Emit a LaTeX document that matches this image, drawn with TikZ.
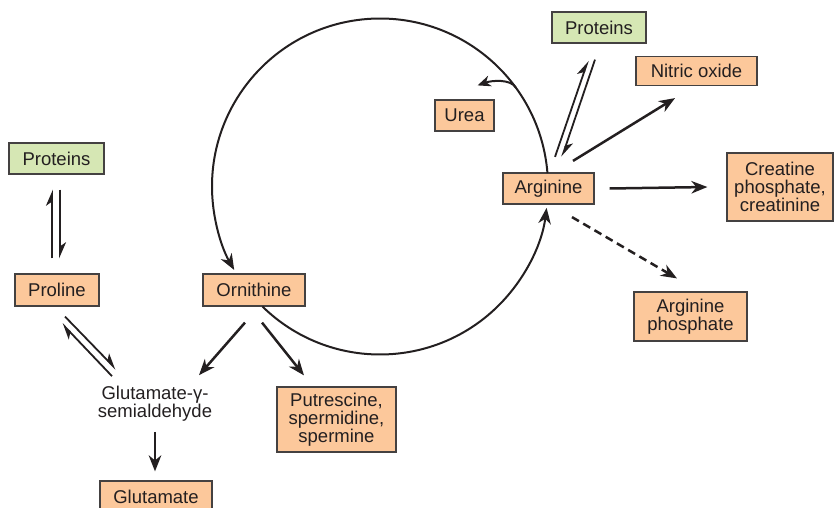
\documentclass[tikz,border=0pt]{standalone}
\usepackage{fontspec}
\setmainfont{Liberation Sans}
\usetikzlibrary{arrows.meta,calc}
\definecolor{boxor}{HTML}{FCC89B}
\definecolor{boxgr}{HTML}{D6E7B4}
\definecolor{ink}{HTML}{231F20}
\begin{document}
\begin{tikzpicture}[x=1pt,y=1pt,
 font=\fontsize{18.5}{18}\selectfont, text=ink,
 obox/.style={draw=ink!85, line width=1.2pt, fill=boxor, inner sep=0pt, align=center},
 gbox/.style={obox, fill=boxgr},
 tip/.style={-{Stealth[length=16pt,width=12.5pt,inset=5pt]}},
 arr/.style={ink, line width=2.5pt, tip},
 eqh/.style={ink, line width=1.8pt, -{Stealth[harpoon,length=14pt,width=12pt,inset=4pt]}},
 cyc/.style={ink, line width=2pt}
]
\useasboundingbox (0,0) rectangle (835,507);
% nodes
\node[gbox, minimum width=94pt, minimum height=31pt] (protR) at (599,479.5) {Proteins};
\node[obox, minimum width=121pt, minimum height=29pt] (nitric) at (696.5,436) {Nitric oxide};
\node[obox, minimum width=59pt, minimum height=31pt] (urea) at (464.5,391.5) {Urea};
\node[obox, minimum width=91pt, minimum height=31pt] (arg) at (548.5,318.5) {Arginine};
\node[obox, minimum width=106pt, minimum height=68pt] (creat) at (780,320) {Creatine\\phosphate,\\creatinine};
\node[obox, minimum width=113pt, minimum height=49pt] (argp) at (690.5,190.5) {Arginine\\phosphate};
\node[gbox, minimum width=95pt, minimum height=31pt] (protL) at (56.5,348.5) {Proteins};
\node[obox, minimum width=84pt, minimum height=32pt] (proline) at (57,217) {Proline};
\node[obox, minimum width=102pt, minimum height=32pt] (orn) at (254,217) {Ornithine};
\node[align=center, inner sep=0pt] (glusa) at (155,103) {Glutamate-γ-\\semialdehyde};
\node[obox, minimum width=112pt, minimum height=32pt] (glu) at (156,10) {Glutamate};
\node[obox, minimum width=119pt, minimum height=65pt] (putr) at (336.5,87.5) {Putrescine,\\spermidine,\\spermine};
% urea cycle
\coordinate (cc) at (380,320.5);
\draw[cyc, tip] ([shift={(4.6:168)}]cc) arc (4.6:209.8:168);
\draw[cyc, tip] ([shift={(225.6:168)}]cc) arc (225.6:352.7:168);
\coordinate (ubr) at ([shift={(36:168)}]cc);
\draw[cyc, -{Stealth[length=13pt,width=11pt,inset=4pt]}] (ubr) .. controls +(-5,9) and +(14,5) .. ($(urea.north east)+(-17,14)$);
% arginine branches
\draw[arr] ([xshift=15pt]arg.east) -- ([xshift=-19pt]creat.west);
\draw[arr, dashed, dash pattern=on 8pt off 5pt] ($(arg.south)+(23.5,-12.5)$) -- ($(argp.north)+(-13.5,13)$);
\draw[arr] ($(arg.north)+(24.5,11.5)$) -- ($(nitric.south)+(-21.5,-12)$);
\draw[eqh] ($(arg.north)+(6.5,15.5)$) -- ($(protR.south)+(-11,-17)$);
\draw[eqh] ($(protR.south)+(-4,-16)$) -- ($(arg.north)+(13.5,15.5)$);
% proline
\draw[eqh] ($(proline.north)+(-5,15)$) -- ($(protL.south)+(-4.5,-15)$);
\draw[eqh] ($(protL.south)+(3.5,-15)$) -- ($(proline.north)+(3,15)$);
\draw[eqh] ($(proline.south)+(8,-10)$) -- ($(glusa.north)+(-39,17)$);
\draw[eqh] ($(glusa.north)+(-43,10)$) -- ($(proline.south)+(5,-17)$);
% ornithine branches
\draw[arr] ($(orn.south)+(-9,-16)$) -- ($(glusa.north)+(44,11)$);
\draw[arr] ($(orn.south)+(8,-16)$) -- ($(putr.north)+(-32.5,11)$);
\draw[arr] ($(glusa.south)+(0,-10)$) -- ($(glu.north)+(-1,9)$);
\end{tikzpicture}
\end{document}
